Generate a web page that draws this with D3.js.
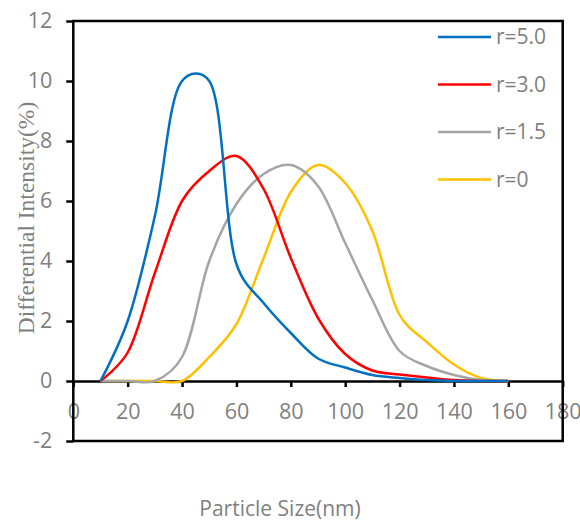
<!DOCTYPE html>
<html>
<head>
<meta charset="utf-8">
<script src="https://cdn.jsdelivr.net/npm/d3@7"></script>
<style>
  body { margin: 0; background: #fff; }
  svg { display: block; }
</style>
</head>
<body>
<div id="chart"></div>
<script>
// particle sizes (nm) shared by every series
var sizes = [10, 20, 30, 40, 50, 60, 70, 80, 90, 100, 110, 120, 130, 140, 150, 160];

// differential intensity (%)
var r50 = [0, 2.0, 5.5, 10.0, 10.0, 3.9, 2.6, 1.6, 0.75, 0.45, 0.2, 0.1, 0.03, 0, 0, 0];
var r30 = [0, 0.95, 3.6, 6.0, 7.0, 7.5, 6.4, 4.1, 2.1, 0.9, 0.35, 0.22, 0.12, 0.03, 0, 0];
var r15 = [0, 0, 0, 0.8, 4.0, 5.9, 6.9, 7.2, 6.5, 4.6, 2.7, 1.0, 0.5, 0.2, 0.03, 0];
var r0  = [0, 0, 0, 0, 0.8, 1.9, 4.1, 6.3, 7.2, 6.6, 5.0, 2.2, 1.3, 0.55, 0.1, 0];

var seriesNames = ["r=5.0", "r=3.0", "r=1.5", "r=0"];
var seriesValues = [r50, r30, r15, r0];
var seriesColors = ["#0070C0", "#FF0000", "#A5A5A5", "#FFC000"];

var xTicks = [0, 20, 40, 60, 80, 100, 120, 140, 160, 180];
var yTicks = [-2, 0, 2, 4, 6, 8, 10, 12];

var svgWidth = 580, svgHeight = 521;
var margin = { top: 21, right: 17.3, bottom: 80, left: 73.3 };
var chartWidth = svgWidth - margin.left - margin.right;
var chartHeight = svgHeight - margin.top - margin.bottom;

var svg = d3.select("#chart").append("svg")
  .attr("width", svgWidth)
  .attr("height", svgHeight);

var g = svg.append("g")
  .attr("transform", `translate(${margin.left}, ${margin.top})`);

var x = d3.scaleLinear().domain([0, 180]).range([0, chartWidth]);
var y = d3.scaleLinear().domain([-2, 12]).range([chartHeight, 0]);

var labelColor = "#7f7f7f";
var labelFont = "'Open Sans', sans-serif";

// y axis, ticks outward
var yAxis = g.append("g")
  .call(d3.axisLeft(y).tickValues(yTicks).tickFormat(d => String(d))
    .tickSize(7).tickPadding(14).tickSizeOuter(0));
yAxis.select(".domain").remove();
yAxis.selectAll("line").attr("stroke", "#000").attr("stroke-width", 2.5);
yAxis.selectAll("text")
  .attr("fill", labelColor)
  .style("font-family", labelFont)
  .style("font-size", "21.5px");

// x axis sits on y = 0
var xAxis = g.append("g")
  .attr("transform", `translate(0, ${y(0)})`)
  .call(d3.axisBottom(x).tickValues(xTicks).tickSize(6).tickSizeOuter(0));
xAxis.select(".domain").attr("stroke", "#000").attr("stroke-width", 2.5);
xAxis.selectAll("line").attr("stroke", "#000").attr("stroke-width", 2.5);
xAxis.selectAll("text")
  .attr("y", 30)
  .attr("dy", "0.35em")
  .attr("fill", labelColor)
  .style("font-family", labelFont)
  .style("font-size", "21.5px");

// plot frame
g.append("rect")
  .attr("x", 0)
  .attr("y", 0)
  .attr("width", chartWidth)
  .attr("height", chartHeight)
  .attr("fill", "none")
  .attr("stroke", "#000")
  .attr("stroke-width", 2.5);

// curves (smoothed like the spreadsheet)
var line = d3.line()
  .x((d, i) => x(sizes[i]))
  .y(d => y(d))
  .curve(d3.curveCatmullRom.alpha(0.35));

var order = [3, 2, 1, 0];
order.forEach(function (k) {
  g.append("path")
    .datum(seriesValues[k])
    .attr("d", line)
    .attr("fill", "none")
    .attr("stroke", seriesColors[k])
    .attr("stroke-width", 2.5);
});

// legend
var legend = svg.append("g").attr("transform", "translate(438, 37)");
seriesNames.forEach(function (name, i) {
  var row = legend.append("g").attr("transform", `translate(0, ${i * 47.5})`);
  row.append("line")
    .attr("x1", 0).attr("x2", 53)
    .attr("y1", 0).attr("y2", 0)
    .attr("stroke", seriesColors[i])
    .attr("stroke-width", 2.5);
  row.append("text")
    .attr("x", 58)
    .attr("y", 0)
    .attr("dy", "0.35em")
    .attr("fill", labelColor)
    .style("font-family", labelFont)
    .style("font-size", "21px")
    .text(name);
});

// axis titles
svg.append("text")
  .attr("x", 280)
  .attr("y", 509)
  .attr("dy", "0.35em")
  .attr("text-anchor", "middle")
  .attr("fill", labelColor)
  .style("font-family", labelFont)
  .style("font-size", "21px")
  .text("Particle Size(nm)");

svg.append("text")
  .attr("transform", "translate(26, 218) rotate(-90)")
  .attr("text-anchor", "middle")
  .attr("dy", "0.35em")
  .attr("fill", labelColor)
  .style("font-family", "'Liberation Serif', 'Times New Roman', serif")
  .style("font-size", "23.5px")
  .text("Differential Intensity(%)");
</script>
</body>
</html>
